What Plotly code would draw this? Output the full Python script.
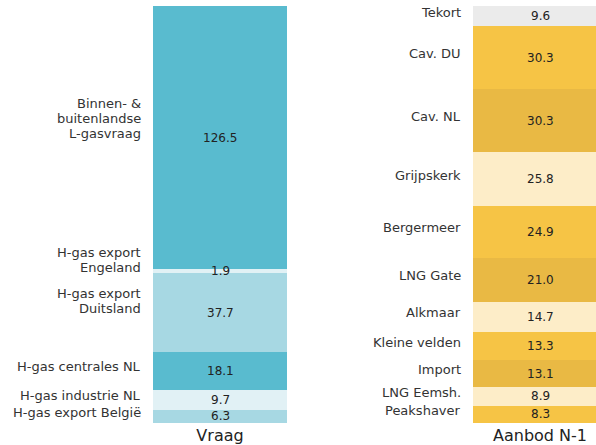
import plotly.graph_objects as go

categories = ["Vraag", "Aanbod N-1"]

vraag_labels = ["H-gas export België", "H-gas industrie NL", "H-gas centrales NL",
                "H-gas export\nDuitsland", "H-gas export\nEngeland",
                "Binnen- &\nbuitenlandse\nL-gasvraag"]
vraag_values = [6.3, 9.7, 18.1, 37.7, 1.9, 126.5]
vraag_colors = ["#a7d8e3", "#e1f1f5", "#59bbcf", "#a7d8e3", "#e1f1f5", "#59bbcf"]

aanbod_labels = ["Peakshaver", "LNG Eemsh.", "Import", "Kleine velden", "Alkmaar",
                 "LNG Gate", "Bergermeer", "Grijpskerk", "Cav. NL", "Cav. DU", "Tekort"]
aanbod_values = [8.3, 8.9, 13.1, 13.3, 14.7, 21.0, 24.9, 25.8, 30.3, 30.3, 9.6]
aanbod_colors = ["#f6c445", "#fdedc8", "#e9b944", "#f6c445", "#fdedc8", "#e9b944",
                 "#f6c445", "#fdedc8", "#e9b944", "#f6c445", "#ebebeb"]

BAR_W = 0.42
LINE_H = 15
fig = go.Figure()
annotations = []

def add_stack(cat_idx, labels, values, colors):
    cum = 0.0
    for lab, val, col in zip(labels, values, colors):
        fig.add_trace(go.Bar(x=[categories[cat_idx]], y=[val], width=BAR_W,
                             marker=dict(color=col, line=dict(width=0)),
                             showlegend=False, hoverinfo="skip"))
        mid = cum + val / 2
        annotations.append(dict(x=cat_idx, y=mid, xref="x", yref="y",
                                text=f"{val:.1f}", showarrow=False,
                                font=dict(size=12, color="#222222", family="DejaVu Sans"),
                                xanchor="center", yanchor="middle"))
        lines = lab.split("\n")
        n = len(lines)
        for k, line in enumerate(lines):
            up = (n - 1 - k) * LINE_H
            annotations.append(dict(x=cat_idx - BAR_W / 2, y=mid, xref="x", yref="y",
                                    text=line, showarrow=False, align="right",
                                    font=dict(size=13, color="#333333", family="DejaVu Sans"),
                                    xanchor="right", yanchor="middle", borderpad=0,
                                    xshift=-11, yshift=4 + up))
        cum += val

add_stack(0, vraag_labels, vraag_values, vraag_colors)
add_stack(1, aanbod_labels, aanbod_values, aanbod_colors)

total = max(sum(vraag_values), sum(aanbod_values))

fig.update_layout(
    width=596, height=445,
    margin=dict(l=0, r=0, t=6, b=22),
    barmode="stack",
    plot_bgcolor="white", paper_bgcolor="white",
    annotations=annotations,
    font=dict(family="DejaVu Sans", color="#222222"),
    xaxis=dict(type="category", range=[-0.6875, 1.175], showgrid=False,
               zeroline=False, showline=False, ticks="", ticklabelstandoff=1,
               tickfont=dict(size=16, color="#222222", family="DejaVu Sans")),
    yaxis=dict(range=[0, total], visible=False, showgrid=False, zeroline=False),
)

fig.write_html("out.html", config={"displayModeBar": False})

with open("out.html", "r", encoding="utf-8") as f:
    html = f.read()
html = html.replace("<body>", '<body style="margin:0;padding:0;overflow:hidden">', 1)
with open("out.html", "w", encoding="utf-8") as f:
    f.write(html)
